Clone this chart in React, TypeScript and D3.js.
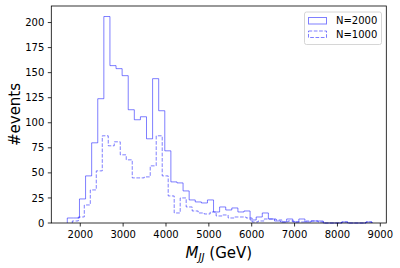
import React, { useEffect, useRef } from 'react';
import * as d3 from 'd3';

// bin counts, 50 equal bins per sample
const countsN2000 = [
  5, 5, 24, 47, 80, 124, 206, 157, 154, 147,
  113, 103, 106, 84, 144, 112, 72, 41, 40, 32,
  23, 21, 20, 23, 11, 16, 13, 15, 11, 12,
  3, 6, 10, 4, 2, 1, 4, 1, 4, 1,
  2, 2, 0, 0, 0, 1, 0, 0, 0, 1,
];
const countsN1000 = [
  2, 6, 18, 33, 52, 87, 77, 81, 68, 63,
  45, 45, 46, 57, 87, 47, 27, 10, 25, 16,
  12, 10, 9, 11, 7, 8, 5, 6, 6, 5,
  1, 2, 4, 4, 3, 1, 2, 1, 1, 2,
  2, 1, 0, 0, 0, 1, 0, 0, 0, 1,
];
const rangeN2000 = [1697, 8806];
const rangeN1000 = [1814, 8806];

const xDomain = [1324, 9140];
const yDomain = [0, 216.5];
const xTicks = [2000, 3000, 4000, 5000, 6000, 7000, 8000, 9000];
const yTicks = [0, 25, 50, 75, 100, 125, 150, 175, 200];
const legendLabels = ['N=2000', 'N=1000'];

const W = 400;
const H = 268;
const margin = { top: 6, right: 13.7, bottom: 45, left: 51.3 };
const color = 'rgba(0,0,255,0.5)';
const font = 'DejaVu Sans, sans-serif';

function App() {
  const ref = useRef<SVGSVGElement>(null);

  useEffect(() => {
    const svg = d3.select(ref.current);
    svg.selectAll('*').remove();

    const x = d3.scaleLinear().domain(xDomain).range([margin.left, W - margin.right]);
    const y = d3.scaleLinear().domain(yDomain).range([H - margin.bottom, margin.top]);

    const stepPoints = (counts: number[], range: number[]) => {
      const n = counts.length;
      const edges = d3.range(n + 1).map(i => range[0] + (i * (range[1] - range[0])) / n);
      const pts: [number, number][] = [[edges[0], 0]];
      counts.forEach((c, i) => {
        pts.push([edges[i], c]);
        pts.push([edges[i + 1], c]);
      });
      pts.push([edges[n], 0]);
      return pts;
    };

    const line = d3.line<[number, number]>()
      .x(d => x(d[0]))
      .y(d => y(d[1]));

    const g = svg.append('g');

    g.append('path')
      .attr('d', line(stepPoints(countsN2000, rangeN2000)))
      .attr('fill', 'none')
      .attr('stroke', color)
      .attr('stroke-width', 1);

    g.append('path')
      .attr('d', line(stepPoints(countsN1000, rangeN1000)))
      .attr('fill', 'none')
      .attr('stroke', color)
      .attr('stroke-width', 1)
      .attr('stroke-dasharray', '3.7,1.6');

    // frame
    g.append('rect')
      .attr('x', margin.left)
      .attr('y', margin.top)
      .attr('width', W - margin.left - margin.right)
      .attr('height', H - margin.top - margin.bottom)
      .attr('fill', 'none')
      .attr('stroke', 'black')
      .attr('stroke-width', 0.8);

    // x ticks
    const xt = g.append('g').selectAll('g').data(xTicks).enter().append('g');
    xt.append('line')
      .attr('x1', d => x(d)).attr('x2', d => x(d))
      .attr('y1', H - margin.bottom).attr('y2', H - margin.bottom + 3.5)
      .attr('stroke', 'black').attr('stroke-width', 0.8);
    xt.append('text')
      .attr('x', d => x(d))
      .attr('y', H - margin.bottom + 15)
      .attr('text-anchor', 'middle')
      .attr('font-family', font)
      .attr('font-size', 10)
      .text(d => String(d));

    // y ticks
    const yt = g.append('g').selectAll('g').data(yTicks).enter().append('g');
    yt.append('line')
      .attr('x1', margin.left - 3.5).attr('x2', margin.left)
      .attr('y1', d => y(d)).attr('y2', d => y(d))
      .attr('stroke', 'black').attr('stroke-width', 0.8);
    yt.append('text')
      .attr('x', margin.left - 7)
      .attr('y', d => y(d))
      .attr('dy', '0.36em')
      .attr('text-anchor', 'end')
      .attr('font-family', font)
      .attr('font-size', 10)
      .text(d => String(d));

    // axis labels
    const xl = g.append('text')
      .attr('x', (margin.left + W - margin.right) / 2)
      .attr('y', 258)
      .attr('text-anchor', 'middle')
      .attr('font-family', font)
      .attr('font-size', 15);
    xl.append('tspan').attr('font-style', 'italic').text('M');
    xl.append('tspan').attr('font-style', 'italic').attr('font-size', 10.5).attr('dy', 3).text('JJ');
    xl.append('tspan').attr('dy', -3).text(' (GeV)');

    g.append('text')
      .attr('transform', `translate(20,${(margin.top + H - margin.bottom) / 2}) rotate(-90)`)
      .attr('text-anchor', 'middle')
      .attr('font-family', font)
      .attr('font-size', 15)
      .text('#events');

    // legend
    const lg = g.append('g');
    lg.append('rect')
      .attr('x', 304.5).attr('y', 12)
      .attr('width', 77).attr('height', 32.5)
      .attr('rx', 2)
      .attr('fill', 'white').attr('fill-opacity', 0.8)
      .attr('stroke', '#cccccc').attr('stroke-width', 0.8);
    legendLabels.forEach((label, i) => {
      const yy = 20.5 + i * 13.5;
      lg.append('rect')
        .attr('x', 308.5).attr('y', yy - 3)
        .attr('width', 18).attr('height', 6.5)
        .attr('fill', 'none')
        .attr('stroke', color)
        .attr('stroke-width', 1)
        .attr('stroke-dasharray', i === 1 ? '3.7,1.6' : null);
      lg.append('text')
        .attr('x', 336).attr('y', yy)
        .attr('dy', '0.36em')
        .attr('font-family', font)
        .attr('font-size', 10)
        .text(label);
    });
  }, []);

  return (
    <svg ref={ref} width={W} height={H}
      style={{ position: 'absolute', left: 0, top: 0, background: 'white' }} />
  );
}

export default App;
